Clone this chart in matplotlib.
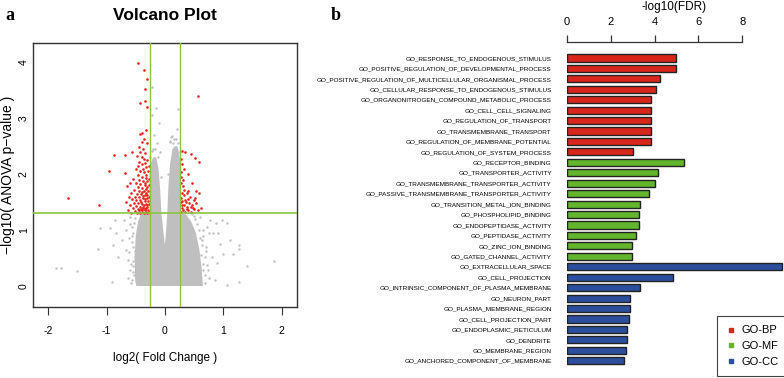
import numpy as np
import matplotlib.pyplot as plt
from matplotlib.lines import Line2D

# ---- panel b data: GO terms and -log10(FDR)
go_terms = ['GO_RESPONSE_TO_ENDOGENOUS_STIMULUS', 'GO_POSITIVE_REGULATION_OF_DEVELOPMENTAL_PROCESS',
            'GO_POSITIVE_REGULATION_OF_MULTICELLULAR_ORGANISMAL_PROCESS', 'GO_CELLULAR_RESPONSE_TO_ENDOGENOUS_STIMULUS',
            'GO_ORGANONITROGEN_COMPOUND_METABOLIC_PROCESS', 'GO_CELL_CELL_SIGNALING', 'GO_REGULATION_OF_TRANSPORT',
            'GO_TRANSMEMBRANE_TRANSPORT', 'GO_REGULATION_OF_MEMBRANE_POTENTIAL', 'GO_REGULATION_OF_SYSTEM_PROCESS',
            'GO_RECEPTOR_BINDING', 'GO_TRANSPORTER_ACTIVITY', 'GO_TRANSMEMBRANE_TRANSPORTER_ACTIVITY',
            'GO_PASSIVE_TRANSMEMBRANE_TRANSPORTER_ACTIVITY', 'GO_TRANSITION_METAL_ION_BINDING',
            'GO_PHOSPHOLIPID_BINDING', 'GO_ENDOPEPTIDASE_ACTIVITY', 'GO_PEPTIDASE_ACTIVITY', 'GO_ZINC_ION_BINDING',
            'GO_GATED_CHANNEL_ACTIVITY', 'GO_EXTRACELLULAR_SPACE', 'GO_CELL_PROJECTION',
            'GO_INTRINSIC_COMPONENT_OF_PLASMA_MEMBRANE', 'GO_NEURON_PART', 'GO_PLASMA_MEMBRANE_REGION',
            'GO_CELL_PROJECTION_PART', 'GO_ENDOPLASMIC_RETICULUM', 'GO_DENDRITE', 'GO_MEMBRANE_REGION',
            'GO_ANCHORED_COMPONENT_OF_MEMBRANE']
fdr = [5.0, 5.0, 4.26, 4.08, 3.83, 3.83, 3.83, 3.83, 3.83, 3.01,
       5.32, 4.17, 4.0, 3.73, 3.32, 3.29, 3.29, 3.15, 2.98, 2.98,
       9.8, 4.82, 3.32, 2.89, 2.86, 2.84, 2.74, 2.74, 2.69, 2.59]
groups = ['GO-BP'] * 10 + ['GO-MF'] * 10 + ['GO-CC'] * 10
group_colors = {'GO-BP': '#d9261c', 'GO-MF': '#62b52d', 'GO-CC': '#2b4f9e'}

# ---- panel a data: volcano plot
# outline of the dense cloud of non significant genes
core_x = [-0.49, 0.65, 0.63, 0.59, 0.53, 0.45, 0.36, 0.263, 0.263, 0.24, 0.21, 0.17, 0.13, 0.09, 0.06,
          0.04, 0.02, 0.0, -0.03, -0.06, -0.08, -0.11, -0.15, -0.20, -0.24, -0.263, -0.263, -0.41,
          -0.46, -0.50, -0.52, -0.51]
core_y = [0.0, 0.0, 0.3, 0.65, 0.95, 1.15, 1.28, 1.3, 2.2, 2.4, 2.5, 2.5, 2.45, 2.2, 1.8,
          1.3, 1.0, 0.73, 1.0, 1.3, 1.7, 2.1, 2.3, 2.3, 2.2, 2.0, 1.3, 1.3,
          1.15, 0.9, 0.5, 0.1]
# scattered grey genes
gray_x = [-1.86, -1.78, -1.50, -1.15, -1.11, -0.94, -0.86, -0.83, -0.89, -0.80, -0.90, -0.70, -0.66,
          -0.74, -0.67, -0.63, -0.60, -0.57, -0.59, -0.54, -0.55, -0.51, -0.62, -0.58, -0.56, -0.53,
          -0.64, -0.61, -0.57, -0.55, -0.53, -0.52, -0.60, -0.56, -0.54, -0.52, -0.58, -0.55,
          1.06, 0.97, 0.87, 0.77, 1.26, 1.26, 1.40, 1.87, 1.27, 1.06, 1.17, 1.11, 1.0, 0.94, 0.89,
          0.83, 0.71, 0.66, 0.74, 0.86, 0.60, 0.69, 0.80, 0.91, 0.63, 0.57, 0.68, 0.72, 0.76, 0.65,
          0.66, 0.70, 0.64, 0.68, 0.62, 0.66, 0.60, 0.58, 0.55, 0.52, 0.49, 0.47, 0.72, 0.75,
          -0.23, -0.15, 0.23, 0.21, -0.23, -0.18, -0.14, 0.14, -0.11, 0.11, 0.19, -0.20, 0.08, -0.08,
          -0.25, -0.22, -0.17, -0.12, 0.09, 0.12, 0.16, 0.22, 0.25, -0.06, 0.05]
gray_y = [0.32, 0.32, 0.27, 0.67, 1.04, 1.04, 1.18, 0.94, 0.73, 0.52, 0.08, 1.18, 1.0,
          0.82, 0.64, 0.46, 0.29, 0.11, 1.24, 0.94, 0.70, 0.52, 0.85, 0.40, 1.05, 0.20,
          0.15, 0.60, 0.78, 0.35, 1.12, 0.62, 1.10, 0.90, 0.25, 1.22, 0.05, 0.45,
          1.12, 1.18, 1.13, 1.18, 0.73, 0.66, 0.35, 0.45, 0.08, 0.02, 0.58, 0.82, 0.58, 0.76, 0.41,
          0.94, 0.70, 1.0, 0.29, 0.11, 1.24, 0.52, 0.52, 0.94, 0.82, 0.35, 0.20, 1.05, 0.15, 0.90,
          0.40, 0.62, 0.74, 0.05, 0.55, 0.28, 0.85, 1.00, 1.10, 1.20, 1.25, 1.28, 0.38, 0.95,
          3.55, 3.18, 3.17, 2.80, 3.06, 2.70, 2.55, 2.55, 2.91, 2.67, 2.62, 2.45, 2.60, 2.40,
          2.30, 2.42, 2.45, 2.30, 2.58, 2.68, 2.62, 2.55, 2.40, 1.95, 2.00]
# significant genes (red)
red_x = [-0.47, -0.36, -0.30, -0.34, -0.43, -0.35, -0.30, -0.33, -0.39, -0.43, -0.36, -0.40, -0.31,
         -0.87, -0.69, -0.57, -0.95, -1.66, -1.13,
         -0.45, -0.38, -0.42, -0.34, -0.48, -0.40, -0.36, -0.44, -0.30, -0.46, -0.39, -0.33, -0.50,
         -0.42, -0.36, -0.29, -0.68, -0.47, -0.40, -0.33, -0.55, -0.44, -0.37, -0.30, -0.60, -0.50,
         -0.42, -0.35, -0.28, -0.65, -0.47, -0.39, -0.32, -0.53, -0.44, -0.36, -0.29, -0.58, -0.48,
         -0.41, -0.34, -0.30, -0.62, -0.52, -0.45, -0.38, -0.31, -0.56, -0.49, -0.42, -0.35, -0.29,
         -0.66, -0.53, -0.46, -0.39, -0.33, -0.28, -0.59, -0.50, -0.43, -0.37, -0.31, -0.55, -0.47,
         -0.41, -0.35, -0.29, -0.64, -0.52, -0.45, -0.39, -0.33, -0.28, -0.58, -0.48, -0.42, -0.36,
         -0.30, -0.40, -0.34, -0.32, -0.38, -0.44, -0.36, -0.30, -0.41, -0.34, -0.28, -0.37, -0.32,
         -0.40, -0.30, -0.35, -0.28, -0.32, -0.38, -0.28, -0.35,
         0.56, 0.30, 0.34, 0.44, 0.52, 0.58, 0.27, 0.29, 0.33, 0.39, 0.28, 0.31, 0.46, 0.27, 0.54,
         0.58, 0.61, 0.31, 0.37, 0.29, 0.43, 0.49, 0.34, 0.29, 0.37, 0.46, 0.54, 0.40, 0.31, 0.50,
         0.57, 0.28, 0.32, 0.36, 0.42, 0.30, 0.35, 0.45, 0.28, 0.39, 0.33, 0.28, 0.30, 0.48, 0.52,
         0.40, 0.27, 0.33, 0.38, 0.44]
red_y = [3.98, 3.87, 3.70, 3.52, 3.28, 3.31, 3.20, 2.78, 2.73, 2.72, 2.62, 2.57, 2.55,
         2.34, 2.35, 2.39, 2.06, 1.57, 1.45,
         2.48, 2.45, 2.40, 2.38, 2.33, 2.30, 2.27, 2.22, 2.25, 2.15, 2.18, 2.12, 2.10,
         2.06, 2.03, 2.05, 2.02, 1.98, 1.95, 1.93, 1.92, 1.89, 1.87, 1.88, 1.85, 1.84,
         1.82, 1.80, 1.81, 1.78, 1.77, 1.75, 1.74, 1.72, 1.70, 1.69, 1.70, 1.67, 1.65,
         1.64, 1.63, 1.62, 1.60, 1.60, 1.59, 1.58, 1.57, 1.55, 1.54, 1.53, 1.52, 1.52,
         1.50, 1.49, 1.48, 1.47, 1.47, 1.46, 1.44, 1.43, 1.42, 1.42, 1.41, 1.39, 1.38,
         1.37, 1.37, 1.36, 1.35, 1.34, 1.33, 1.33, 1.32, 1.32, 1.31, 1.31, 1.31, 1.31,
         1.31, 1.35, 1.35, 1.40, 1.39, 1.36, 1.45, 1.44, 1.50, 1.56, 1.59, 1.61, 1.66,
         1.68, 1.77, 1.85, 1.92, 1.98, 2.10, 2.15, 2.20,
         3.39, 2.42, 2.39, 2.36, 2.29, 2.21, 2.27, 2.19, 2.10, 2.01, 2.03, 1.90, 1.84, 1.84, 1.70,
         1.66, 1.39, 1.78, 1.66, 1.66, 1.60, 1.54, 1.54, 1.45, 1.42, 1.45, 1.48, 1.36, 1.36, 1.37,
         1.35, 1.58, 1.62, 1.50, 1.48, 1.40, 1.33, 1.33, 1.32, 1.55, 1.72, 1.95, 1.52, 1.40, 1.58,
         1.70, 1.50, 1.45, 1.38, 1.41]

fc_cut = 0.263
p_cut = 1.3

narrow = ['Liberation Sans Narrow', 'Liberation Sans', 'DejaVu Sans']
plt.rcParams['font.family'] = ['Liberation Sans', 'DejaVu Sans']

fig = plt.figure(figsize=(7.84, 3.78), dpi=100)

# ---------------- volcano plot
grey = '#bfbfbf'
lime = '#8cc63f'
axv = fig.add_axes([33/784, 1-307/378, 264/784, 264/378])
axv.fill(core_x, core_y, color=grey, lw=0, zorder=1)
axv.scatter(gray_x, gray_y, s=3, c=grey, lw=0, zorder=2)
axv.scatter(red_x, red_y, s=3.5, c='#e8231d', lw=0, zorder=3)
axv.axvline(-fc_cut, color=lime, lw=1, zorder=4)
axv.axvline(fc_cut, color=lime, lw=1, zorder=4)
axv.axhline(p_cut, color=lime, lw=1.2, zorder=4)
axv.set_xlim(-2.26, 2.262)
axv.set_ylim(-0.375, 4.344)
axv.set_xticks([-2, -1, 0, 1, 2])
axv.set_xticklabels(['-2', '-1', '0', '1', '2'], family=narrow, fontsize=7.5)
axv.set_yticks([0, 1, 2, 3, 4])
axv.set_yticklabels(['0', '1', '2', '3', '4'], family=narrow, fontsize=7.5, rotation=90, va='center')
axv.tick_params(axis='x', length=5.5, width=0.8, pad=8, color='#333333')
axv.tick_params(axis='y', length=0, pad=3)
for sp in axv.spines.values():
    sp.set_color('#333333')
    sp.set_linewidth(1.0)

fig.text(165/784, 1-15/378, 'Volcano Plot', family=narrow, fontweight='bold', fontsize=12.5,
         ha='center', va='center')
fig.text(165/784, 1-358/378, 'log2( Fold Change )', family=narrow, fontsize=8.5, ha='center', va='center')
fig.text(8/784, 1-175/378, '\u2212log10( ANOVA p\u2212value )', fontsize=10, rotation=90,
         ha='center', va='center')
fig.text(5/784, 1-15/378, 'a', family=['Liberation Serif', 'DejaVu Serif'], fontweight='bold',
         fontsize=13, va='center')
fig.text(331/784, 1-15/378, 'b', family=['Liberation Serif', 'DejaVu Serif'], fontweight='bold',
         fontsize=13, va='center')

# ---------------- GO enrichment bars
axb = fig.add_axes([567/784, 1-370/378, 216.8/784, 328/378])
ypos = np.arange(len(go_terms))
axb.barh(ypos, fdr, height=0.68, color=[group_colors[g] for g in groups],
         edgecolor='#222222', linewidth=1.0)
axb.set_xlim(0, 9.9)
axb.set_ylim(29.89, -1.53)
axb.xaxis.tick_top()
axb.set_xticks([0, 2, 4, 6, 8])
axb.tick_params(axis='x', length=5, width=0.9, pad=6, labelsize=8, color='#333333')
axb.set_yticks(ypos)
axb.set_yticklabels(go_terms, fontsize=4.6)
axb.tick_params(axis='y', length=0, pad=11)
for side in ['bottom', 'left', 'right']:
    axb.spines[side].set_visible(False)
axb.spines['top'].set_bounds(0, 8)
axb.spines['top'].set_color('#333333')
axb.spines['top'].set_linewidth(0.9)
fig.text(674/784, 1-7/378, '-log10(FDR)', fontsize=8.5, ha='center', va='center')

handles = [Line2D([], [], marker='s', linestyle='none', markersize=3.5,
                  markerfacecolor=group_colors[g], markeredgecolor=group_colors[g])
           for g in ['GO-BP', 'GO-MF', 'GO-CC']]
leg = fig.legend(handles, ['GO-BP', 'GO-MF', 'GO-CC'], loc='upper left',
                 bbox_to_anchor=(717/784, 1-316/378), bbox_transform=fig.transFigure,
                 fontsize=8, frameon=True, fancybox=False, handlelength=0.8,
                 handletextpad=0.6, borderpad=0.85, labelspacing=0.5, borderaxespad=0)
leg.get_frame().set_edgecolor('#111111')
leg.get_frame().set_linewidth(0.8)

fig.savefig('out.png', dpi=100)
